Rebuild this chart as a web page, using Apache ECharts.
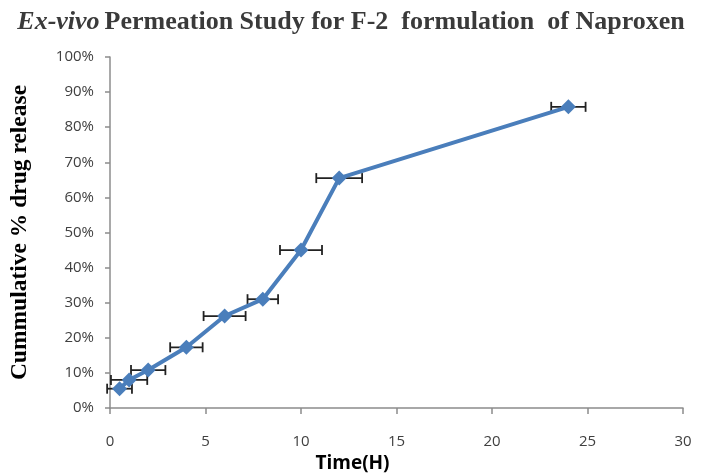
<!DOCTYPE html>
<html><head><meta charset="utf-8">
<script src="https://cdn.jsdelivr.net/npm/echarts@6/dist/echarts.min.js"></script>
<style>html,body{margin:0;padding:0;background:#fff}#c{width:702px;height:476px}</style>
</head><body><div id="c"></div>
<script>
const timeH = [0.5, 1, 2, 4, 6, 8, 10, 12, 24];
const releasePct = [5.5, 8, 10.8, 17.3, 26.2, 31, 45, 65.5, 85.8];
const timeErr = [0.65, 0.95, 0.9, 0.85, 1.1, 0.8, 1.1, 1.2, 0.9];
const xTicks = [0, 5, 10, 15, 20, 25, 30];
const yTicks = [0, 10, 20, 30, 40, 50, 60, 70, 80, 90, 100];

const lineData = timeH.map((t, i) => [t, releasePct[i]]);
const errData = timeH.map((t, i) => [t - timeErr[i], t + timeErr[i], releasePct[i]]);

const chart = echarts.init(document.getElementById('c'));
chart.setOption({
  animation: false,
  title: {
    text: '{i|Ex-vivo} {b|Permeation Study for F-2  formulation  of Naproxen}',
    left: 'center', top: 4,
    textStyle: {
      rich: {
        i: {fontFamily: 'Liberation Serif', fontStyle: 'italic', fontWeight: 'bold', fontSize: 26, color: '#3a3a3a'},
        b: {fontFamily: 'Liberation Serif', fontWeight: 'bold', fontSize: 26, color: '#3a3a3a'}
      }
    }
  },
  grid: {left: 110, right: 19, top: 57, bottom: 68, containLabel: false, outerBoundsMode: 'none'},
  xAxis: {
    type: 'value', min: 0, max: 30, interval: 5,
    name: 'Time(H)', nameLocation: 'middle', nameGap: 46,
    nameTextStyle: {fontFamily: 'Open Sans', fontWeight: 'bold', fontSize: 19, color: '#000', padding: [0, 88, 0, 0]},
    axisLine: {show: true, lineStyle: {color: '#8c8c8c', width: 1.5}},
    axisTick: {show: true, length: 6, lineStyle: {color: '#8c8c8c', width: 1.5}},
    axisLabel: {fontFamily: 'Open Sans', fontSize: 15, color: '#404040', margin: 26},
    splitLine: {show: false}
  },
  yAxis: {
    type: 'value', min: 0, max: 100, interval: 10,
    name: 'Cummulative % drug release', nameLocation: 'middle', nameGap: 78,
    nameTextStyle: {fontFamily: 'Liberation Serif', fontWeight: 'bold', fontSize: 23.5, color: '#000'},
    axisLine: {show: true, lineStyle: {color: '#8c8c8c', width: 1.5}},
    axisTick: {show: true, length: 5, lineStyle: {color: '#8c8c8c', width: 1.5}},
    axisLabel: {fontFamily: 'Open Sans', fontSize: 15, color: '#404040', margin: 16, formatter: v => v + '%'},
    splitLine: {show: false}
  },
  series: [
    {
      type: 'custom', z: 1,
      data: errData,
      encode: {x: [0, 1], y: 2},
      renderItem: function (params, api) {
        const p1 = api.coord([api.value(0), api.value(2)]);
        const p2 = api.coord([api.value(1), api.value(2)]);
        const h = 5;
        const st = {stroke: '#222', lineWidth: 1.8};
        return {type: 'group', children: [
          {type: 'line', shape: {x1: p1[0], y1: p1[1], x2: p2[0], y2: p2[1]}, style: st},
          {type: 'line', shape: {x1: p1[0], y1: p1[1] - h, x2: p1[0], y2: p1[1] + h}, style: st},
          {type: 'line', shape: {x1: p2[0], y1: p2[1] - h, x2: p2[0], y2: p2[1] + h}, style: st}
        ]};
      }
    },
    {
      type: 'line', z: 2,
      data: lineData,
      symbol: 'diamond', symbolSize: 15,
      lineStyle: {color: '#4a7ebb', width: 4},
      itemStyle: {color: '#4a7ebb'}
    }
  ]
});
</script></body></html>
